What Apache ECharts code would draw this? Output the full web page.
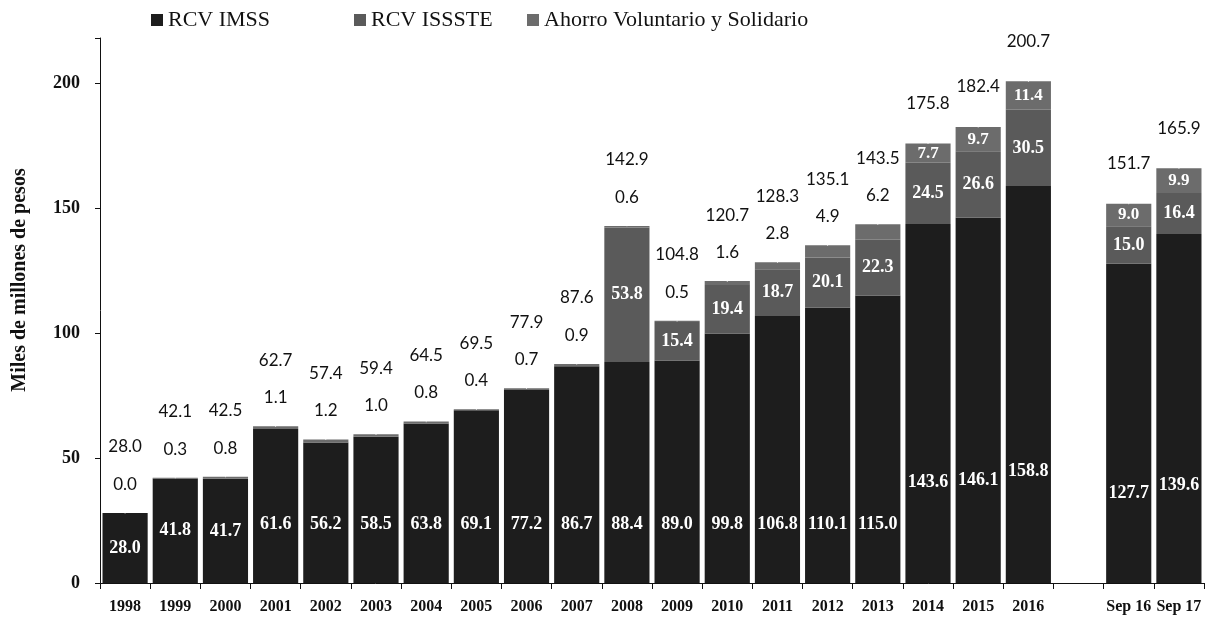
<!DOCTYPE html>
<html>
<head>
<meta charset="utf-8">
<title>Recursos por ahorro</title>
<script src="https://cdn.jsdelivr.net/npm/echarts@6/dist/echarts.min.js"></script>
<style>
  html, body { margin: 0; padding: 0; background: #fff; }
  #chart { width: 1209px; height: 622px; }
</style>
</head>
<body>
<div id="chart"></div>
<script type="text/javascript">
// datos (miles de millones de pesos)
var categories = ['1998','1999','2000','2001','2002','2003','2004','2005','2006','2007',
                  '2008','2009','2010','2011','2012','2013','2014','2015','2016','','Sep 16','Sep 17'];
var imss   = [28.0,41.8,41.7,61.6,56.2,58.5,63.8,69.1,77.2,86.7,88.4,89.0,99.8,106.8,110.1,115.0,143.6,146.1,158.8,null,127.7,139.6];
var issste = [null,null,null,null,null,null,null,null,null,null,53.8,15.4,19.4,18.7,20.1,22.3,24.5,26.6,30.5,null,15.0,16.4];
var vol    = [0.0,0.3,0.8,1.1,1.2,1.0,0.8,0.4,0.7,0.9,0.6,0.5,1.6,2.8,4.9,6.2,7.7,9.7,11.4,null,9.0,9.9];
var total  = [28.0,42.1,42.5,62.7,57.4,59.4,64.5,69.5,77.9,87.6,142.9,104.8,120.7,128.3,135.1,143.5,175.8,182.4,200.7,null,151.7,165.9];
var yTicks = [0, 50, 100, 150, 200];

var serif = '"Liberation Serif", "DejaVu Serif", serif';
var sans = 'Lato, "Open Sans", sans-serif';

// el ahorro voluntario va dentro de la barra cuando es grande
function volInside(i) { return vol[i] != null && vol[i] >= 7; }

var fmt = function (p) { return p.value == null ? '' : Number(p.value).toFixed(1); };

var imssData = imss.map(function (v, i) {
    if (v == null) return null;
    var lab;
    if (volInside(i)) lab = { position: ['50%', '72%'], align: 'center', verticalAlign: 'middle' };
    else if (v < 48) lab = { position: 'inside' };
    else lab = { position: 'insideBottom', distance: 50 };
    return { value: v, label: lab };
});

var volData = vol.map(function (v, i) {
    if (v == null) return null;
    if (volInside(i)) {
        return { value: v, label: { position: 'inside', color: '#fff', fontFamily: serif, fontWeight: 'bold', fontSize: 17 } };
    }
    return { value: v, label: { position: 'top', distance: 20, color: '#111', fontFamily: sans, fontSize: 17 } };
});

var totalData = total.map(function (v, i) {
    if (v == null) return null;
    return { value: v, label: { distance: volInside(i) ? 31 : 57, color: '#111' } };
});

var insideLabel = {
    show: true,
    color: '#fff',
    fontFamily: serif,
    fontWeight: 'bold',
    fontSize: 18,
    formatter: fmt
};

var myChart = echarts.init(document.getElementById('chart'));
myChart.setOption({
    animation: false,
    backgroundColor: '#fff',
    legend: [
        { left: 146, top: 4, data: ['RCV IMSS'] },
        { left: 349, top: 4, data: ['RCV ISSSTE'] },
        { left: 522, top: 4, data: ['Ahorro Voluntario y Solidario'] }
    ].map(function (l) {
        l.itemWidth = 12;
        l.itemHeight = 12;
        l.itemGap = 8;
        l.icon = 'rect';
        l.textStyle = { fontFamily: serif, fontSize: 22, color: '#111' };
        return l;
    }),
    grid: { left: 100, right: 5, top: 38, bottom: 39 },
    xAxis: {
        type: 'category',
        data: categories,
        axisLine: { lineStyle: { color: '#111', width: 1 } },
        axisTick: { show: true, length: 6, lineStyle: { color: '#111' } },
        axisLabel: { color: '#111', fontFamily: serif, fontWeight: 'bold', fontSize: 16, margin: 16, interval: 0 }
    },
    yAxis: {
        type: 'value',
        min: 0,
        max: 218,
        interval: 50,
        splitLine: { show: false },
        axisLine: { show: true, lineStyle: { color: '#111' } },
        axisTick: { show: true, length: 5, lineStyle: { color: '#111' } },
        axisLabel: {
            color: '#111', fontFamily: serif, fontWeight: 'bold', fontSize: 18, margin: 20,
            formatter: function (v) { return yTicks.indexOf(v) >= 0 ? String(v) : ''; }
        }
    },
    graphic: [{
        type: 'text',
        x: 20,
        y: 280,
        rotation: Math.PI / 2,
        style: {
            text: 'Miles de millones de pesos',
            fill: '#111',
            font: 'bold 20px "Liberation Serif", serif',
            align: 'center',
            verticalAlign: 'middle'
        }
    }],
    series: [
        {
            name: 'RCV IMSS',
            type: 'bar',
            stack: 'rcv',
            barCategoryGap: '10%',
            itemStyle: { color: '#1d1d1d' },
            label: insideLabel,
            data: imssData
        },
        {
            name: 'RCV ISSSTE',
            type: 'bar',
            stack: 'rcv',
            itemStyle: { color: '#5a5a5a' },
            label: insideLabel,
            data: issste
        },
        {
            name: 'Ahorro Voluntario y Solidario',
            type: 'bar',
            stack: 'rcv',
            itemStyle: { color: '#6c6c6c' },
            label: { show: true, formatter: fmt },
            data: volData
        },
        {
            name: 'Total',
            type: 'scatter',
            symbolSize: 1,
            itemStyle: { color: '#fff', opacity: 1 },
            label: {
                show: true,
                position: 'top',
                color: '#111',
                fontFamily: sans,
                fontSize: 17,
                formatter: fmt
            },
            data: totalData
        }
    ]
});
</script>
</body>
</html>
